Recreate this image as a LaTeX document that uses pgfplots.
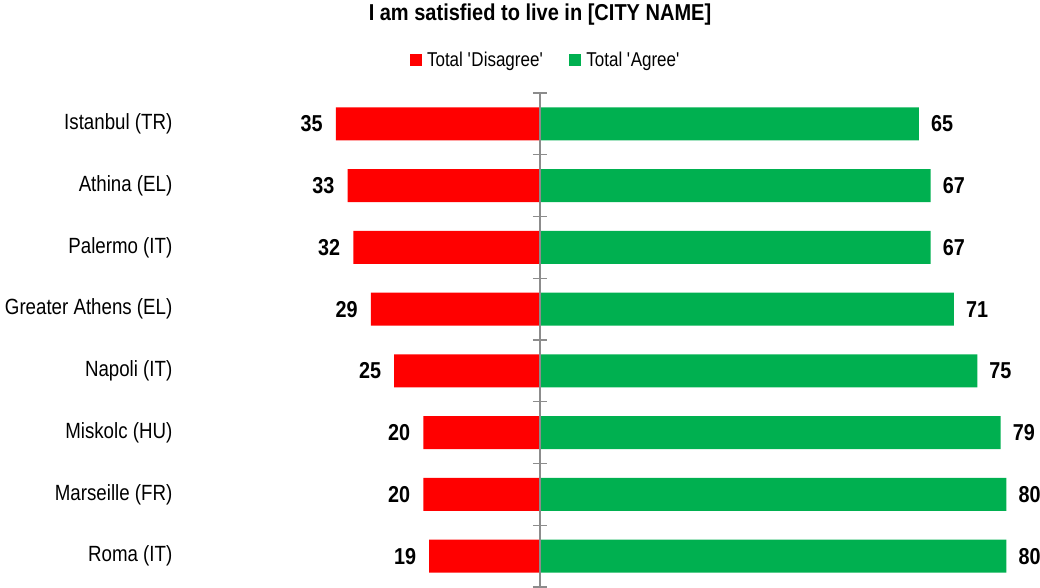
\documentclass[border=0pt]{standalone}
\usepackage{pgfplots}
\pgfplotsset{compat=1.18}
\usepackage{fontspec}
\setmainfont{Liberation Sans}[FakeStretch=0.85]
\newfontfamily\numfont{Liberation Sans}[FakeStretch=0.86]
\newfontfamily\titlefont{Liberation Sans}[FakeStretch=0.87]
\definecolor{dred}{HTML}{FF0000}
\definecolor{agreen}{HTML}{00B050}
\definecolor{axgray}{HTML}{8C8C8C}
\begin{document}
\begin{tikzpicture}
\useasboundingbox (0,0) rectangle (1040pt,587pt);
\begin{axis}[
  at={(178.5pt,494pt)}, anchor=north west,
  scale only axis, width=861.7pt, height=494pt,
  xmin=-62, xmax=85.8, ymin=-0.5, ymax=7.5, y dir=reverse,
  axis line style={draw=none},
  xtick=\empty,
  ytick={0,...,7},
  yticklabels={Istanbul (TR),Athina (EL),Palermo (IT),Greater Athens (EL),Napoli (IT),Miskolc (HU),Marseille (FR),Roma (IT)},
  major tick length=0pt,
  yticklabel style={font=\fontsize{22}{26}\selectfont, inner sep=0pt, xshift=-6pt},
  clip=false,
  title={I am satisfied to live in [CITY NAME]},
  title style={font=\titlefont\bfseries\fontsize{23}{27}\selectfont, at={(0.4195,1)}, anchor=base, yshift=67pt},
  legend style={at={(0.4265,1.0668)}, anchor=center, draw=none, fill=none,
    legend columns=2, font=\fontsize{20}{23}\selectfont,
    /tikz/every even column/.append style={column sep=24pt},
    /tikz/every odd column/.append style={column sep=3pt},
    inner sep=0pt},
  xbar, bar width=33pt, bar shift=0pt,
  legend image code/.code={\fill[#1, draw=none] (0pt,-6pt) rectangle (12pt,6pt);},
  point meta=explicit,
  /pgf/number format/assume math mode=true,
  nodes near coords={\pgfmathprintnumber{\pgfplotspointmeta}},
]
\addplot[fill=dred, draw=none,
  every node near coord/.append style={anchor=east, inner sep=0pt, xshift=-13pt, font=\numfont\bfseries\fontsize{23}{27}\selectfont}]
  coordinates {(-35,0) [35] (-33,1) [33] (-32,2) [32] (-29,3) [29] (-25,4) [25] (-20,5) [20] (-20,6) [20] (-19,7) [19]};
\addlegendentry{Total \textquotesingle Disagree\textquotesingle}
\addplot[fill=agreen, draw=none,
  every node near coord/.append style={anchor=west, inner sep=0pt, xshift=12pt, font=\numfont\bfseries\fontsize{23}{27}\selectfont}]
  coordinates {(65,0) [65] (67,1) [67] (67,2) [67] (71,3) [71] (75,4) [75] (79,5) [79] (80,6) [80] (80,7) [80]};
\addlegendentry{Total \textquotesingle Agree\textquotesingle}
\draw[axgray, line width=1.5pt] (axis cs:0,-0.5) -- (axis cs:0,7.5);
\pgfplotsinvokeforeach{-0.5,0.5,1.5,2.5,3.5,4.5,5.5,6.5,7.5}{
  \draw[axgray, line width=1.2pt] ([xshift=-7pt]axis cs:0,#1) -- ([xshift=7pt]axis cs:0,#1);
}
\end{axis}
\end{tikzpicture}
\end{document}
